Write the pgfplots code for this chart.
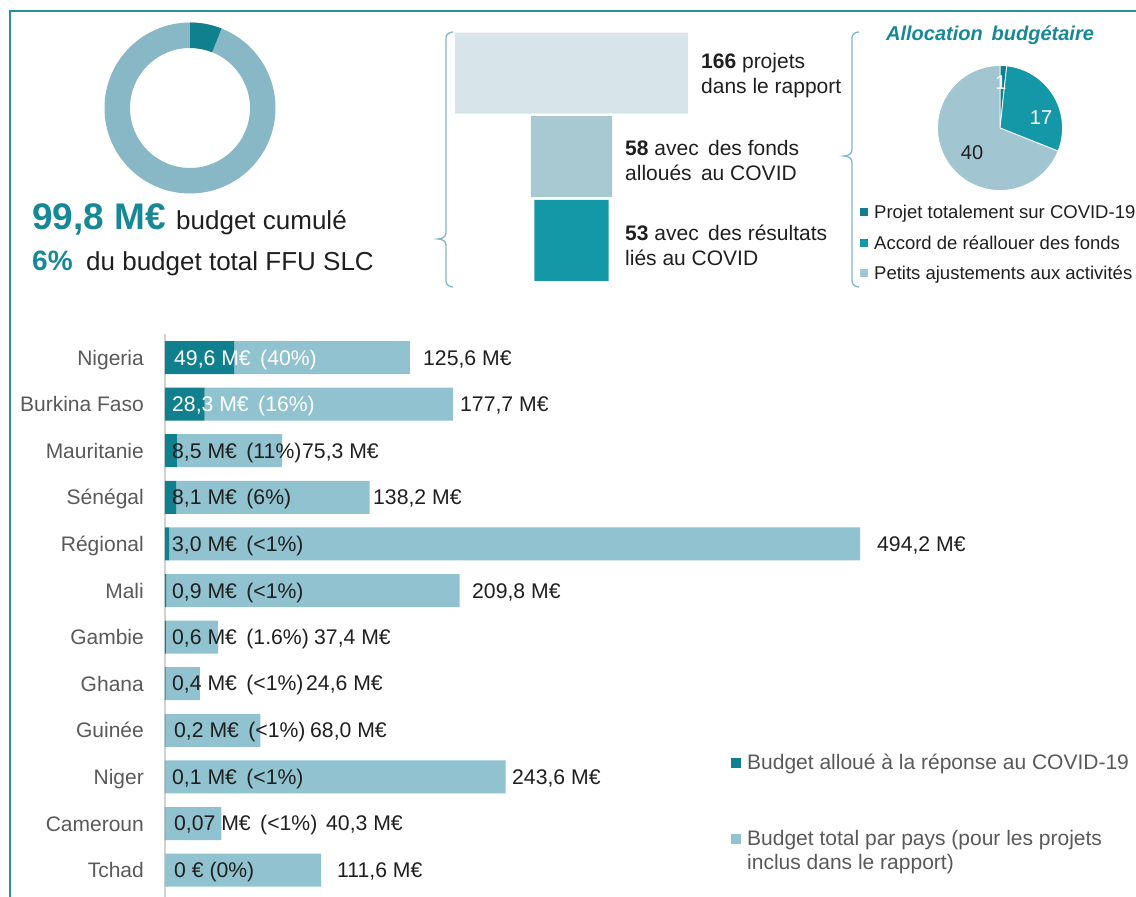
\documentclass[border=0pt]{standalone}
\usepackage{pgfplots}
\usepackage{pgfplotstable}
\pgfplotsset{compat=1.18}
\usepackage{fontspec}
\setmainfont{Liberation Sans}

\definecolor{tealDark}{HTML}{10808E}
\definecolor{tealMid}{HTML}{1497A7}
\definecolor{tealLight}{HTML}{91C2CF}
\definecolor{donutLight}{HTML}{88B8C5}
\definecolor{pieLight}{HTML}{A2C6D1}
\definecolor{funnelA}{HTML}{D7E5EB}
\definecolor{funnelB}{HTML}{A8C8D2}
\definecolor{frameTeal}{HTML}{2A909D}
\definecolor{braceClr}{HTML}{7DB9C5}
\definecolor{txtGray}{HTML}{595959}
\definecolor{txtTeal}{HTML}{178896}
\definecolor{txtDark}{HTML}{1F1F1F}

\newcommand{\fs}[1]{\fontsize{#1}{#1}\selectfont}

% budget par pays (M EUR): part COVID, budget total
\pgfplotstableread{
idx covid total
0  49.6 125.6
1  28.3 177.7
2  8.5  75.3
3  8.1  138.2
4  3.0  494.2
5  0.9  209.8
6  0.6  37.4
7  0.4  24.6
8  0.2  68.0
9  0.1  243.6
10 0.07 40.3
11 0    111.6
}\budget

% noeud centre sur la hauteur des capitales
\tikzset{t/.style={inner sep=0pt, font=\fs{#1}, text height=0.716*#1pt, text depth=0pt}}

\begin{document}
\begin{tikzpicture}[x=1pt,y=1pt]
\useasboundingbox (0,0) rectangle (1136,897);

% cadre
\draw[frameTeal, line width=2.5pt] (10,0) -- (10,897-11) -- (1140,897-11);

% donut
\fill[donutLight, even odd rule] (190,789) circle[radius=85.5] (190,789) circle[radius=60];
\pgfmathsetmacro\dA{90-360*0.06}
\fill[tealDark] ([shift={(190,789)}]90:85.5) arc[start angle=90,end angle=\dA,radius=85.5]
  -- ([shift={(190,789)}]\dA:60) arc[start angle=\dA,end angle=90,radius=60] -- cycle;
\node[anchor=base west, inner sep=0pt, text=txtTeal] at (32,897-230) {\fs{37}\bfseries 99,8 M€};
\node[anchor=base west, inner sep=0pt, text=txtDark] at (176,897-230) {\fs{26}budget cumulé};
\node[anchor=base west, inner sep=0pt, text=txtTeal] at (32,897-271) {\fs{28}\bfseries 6\%};
\node[anchor=base west, inner sep=0pt, text=txtDark] at (86,897-271) {\fs{26}du budget total FFU SLC};

% accolades
\draw[braceClr, line width=1.3pt] (453,897-32) to[out=180,in=90] (446,897-38) -- (446,897-233)
  to[out=-90,in=0] (438,897-239) to[out=0,in=90] (446,897-245) -- (446,897-281)
  to[out=-90,in=180] (453,897-287);
\draw[braceClr, line width=1.3pt] (859,897-32) to[out=180,in=90] (852,897-38) -- (852,897-150)
  to[out=-90,in=0] (844,897-156) to[out=0,in=90] (852,897-162) -- (852,897-281)
  to[out=-90,in=180] (859,897-287);

% entonnoir
\begin{axis}[at={(455pt,865.8pt)}, anchor=north west, hide axis, clip=false,
  xbar, bar shift=0pt, bar width=81pt,
  x=1.404pt, y=83.7pt, xmin=-83, xmax=83, ymin=-0.5, ymax=2.5, y dir=reverse]
\addplot[fill=funnelA, draw=none] coordinates {(83,0) (-83,0)};
\addplot[fill=funnelB, draw=none] coordinates {(29,1) (-29,1)};
\addplot[fill=tealMid, draw=none] coordinates {(26.5,2) (-26.5,2)};
\end{axis}
\begin{scope}[every node/.style={t=21, anchor=west, text=txtDark}]
\node at (701,897-61) {\textbf{166} projets};
\node at (701,897-86) {dans le rapport};
\node at (625,897-148) {\textbf{58} avec\, des fonds};
\node at (625,897-173) {alloués\, au COVID};
\node at (625,897-233) {\textbf{53} avec\, des résultats};
\node at (625,897-258) {liés au COVID};
\end{scope}

% camembert
\pgfmathsetmacro\pA{90-360*1/58}
\pgfmathsetmacro\pB{\pA-360*17/58}
\fill[tealDark, draw=white, line width=0.8pt] (1000,769) -- ([shift={(1000,769)}]90:62.5) arc[start angle=90,end angle=\pA,radius=62.5] -- cycle;
\fill[tealMid, draw=white, line width=0.8pt] (1000,769) -- ([shift={(1000,769)}]\pA:62.5) arc[start angle=\pA,end angle=\pB,radius=62.5] -- cycle;
\fill[pieLight, draw=white, line width=0.8pt] (1000,769) -- ([shift={(1000,769)}]\pB:62.5) arc[start angle=\pB,end angle=-270,radius=62.5] -- cycle;
\node[t=20, text=txtTeal] at (990,897-33) {\bfseries\itshape Allocation\, budgétaire};
\node[t=20, text=white] at (1001,897-82) {1};
\node[t=20, text=white] at (1041,897-117) {17};
\node[t=20, text=txtDark] at (972,897-152) {40};
\fill[tealDark] (860,897-216) rectangle +(8,8);
\fill[tealMid] (860,897-247) rectangle +(8,8);
\fill[pieLight] (860,897-277) rectangle +(8,8);
\begin{scope}[every node/.style={t=18.5, anchor=west, text=txtDark}]
\node at (874,897-212) {Projet totalement sur COVID-19};
\node at (874,897-243) {Accord de réallouer des fonds};
\node at (874,897-273) {Petits ajustements aux activités};
\end{scope}

% barres par pays
\begin{axis}[at={(165pt,562.8pt)}, anchor=north west, clip=false,
  xbar stacked, bar width=33pt,
  x=1.398pt, y=46.6pt, xmin=0, xmax=700, ymin=-0.5, ymax=11.6, y dir=reverse,
  axis x line=none, axis y line*=left,
  y axis line style={draw=black!18, line width=1.5pt, -},
  ytick={0,...,11}, major tick length=0pt,
  yticklabels={Nigeria, Burkina Faso, Mauritanie, Sénégal, Régional, Mali, Gambie, Ghana, Guinée, Niger, Cameroun, Tchad},
  yticklabel style={font=\fs{21}, text=txtGray, inner sep=0pt, text height=15pt, text depth=0pt, anchor=east, xshift=-21pt}]
\addplot[fill=tealDark, draw=none] table[x=covid, y=idx] {\budget};
\addplot[fill=tealLight, draw=none] table[x=total, y=idx] {\budget};
\end{axis}
\begin{scope}[every node/.style={t=21.2, anchor=west, text=txtDark}]
\node[text=white] at (174,897-357.5) {49,6 M€ \,(40\%)};
\node[text=white] at (172,897-404) {28,3 M€ \,(16\%)};
\node at (172,897-451) {8,5 M€ \,(11\%)};
\node at (172,897-497) {8,1 M€ \,(6\%)};
\node at (172,897-544) {3,0 M€ \,(<1\%)};
\node at (172,897-591) {0,9 M€ \,(<1\%)};
\node at (172,897-637) {0,6 M€ \,(1.6\%)};
\node at (172,897-683) {0,4 M€ \,(<1\%)};
\node at (174,897-730) {0,2 M€ \,(<1\%)};
\node at (172,897-777) {0,1 M€ \,(<1\%)};
\node at (174,897-823) {0,07 M€ \,(<1\%)};
\node at (174,897-870) {0 € (0\%)};
\node at (423,897-357.5) {125,6 M€};
\node at (460,897-404) {177,7 M€};
\node at (302,897-451) {75,3 M€};
\node at (373,897-497) {138,2 M€};
\node at (877,897-544) {494,2 M€};
\node at (472,897-591) {209,8 M€};
\node at (314,897-637) {37,4 M€};
\node at (306,897-683) {24,6 M€};
\node at (310,897-730) {68,0 M€};
\node at (512,897-777) {243,6 M€};
\node at (326,897-823) {40,3 M€};
\node at (337,897-870) {111,6 M€};
\end{scope}

% legende
\fill[tealDark] (731,897-768) rectangle +(10,10);
\fill[tealLight] (731,897-844) rectangle +(10,10);
\begin{scope}[every node/.style={t=21, anchor=west, text=txtGray}]
\node at (747,897-762) {Budget alloué à la réponse au COVID-19};
\node at (747,897-838) {Budget total par pays (pour les projets};
\node at (747,897-862) {inclus dans le rapport)};
\end{scope}
\end{tikzpicture}
\end{document}
